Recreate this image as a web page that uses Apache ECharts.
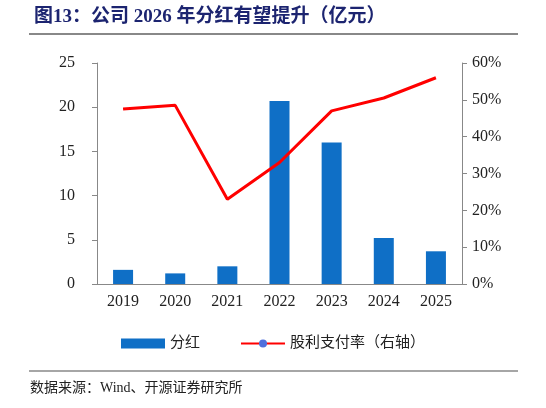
<!DOCTYPE html>
<html><head><meta charset="utf-8">
<script src="https://cdn.jsdelivr.net/npm/echarts@6/dist/echarts.min.js"></script>
<style>body{margin:0;background:#fff}#c{width:546px;height:408px}</style>
</head><body><div id="c"></div>
<script>
// 年份、分红（亿元）、股利支付率（%）
const years = ['2019', '2020', '2021', '2022', '2023', '2024', '2025'];
const dividend = [1.6, 1.2, 2.0, 20.7, 16.0, 5.2, 3.7];
const payoutRatio = [47.5, 48.5, 23, 33, 47, 50.5, 56];

const font = '"Times New Roman","Liberation Serif","Noto Sans CJK SC",serif';
const chart = echarts.init(document.getElementById('c'));
chart.setOption({
  animation: false,
  textStyle: { fontFamily: font },
  title: {
    text: '图13：公司 2026 年分红有望提升（亿元）',
    left: 29, top: 3,
    textStyle: { color: '#1c2470', fontSize: 19, fontWeight: 'bold', fontFamily: font }
  },
  graphic: [
    { type: 'line', shape: { x1: 29, y1: 34, x2: 518, y2: 34 }, style: { stroke: '#888', lineWidth: 2 } },
    { type: 'line', shape: { x1: 29, y1: 371, x2: 518, y2: 371 }, style: { stroke: '#888', lineWidth: 1.5 } },
    { type: 'text', left: 30, top: 381, style: { text: '数据来源：Wind、开源证券研究所', fill: '#222', fontSize: 14, fontFamily: font } }
  ],
  legend: {
    bottom: 52, itemGap: 40, itemWidth: 44, itemHeight: 10,
    textStyle: { fontSize: 15, color: '#222', fontFamily: font },
    data: [{ name: '分红', icon: 'rect' }, '股利支付率（右轴）']
  },
  grid: { left: 97, right: 84, top: 63, bottom: 124 },
  xAxis: {
    type: 'category', data: years,
    axisLine: { lineStyle: { color: '#888' } },
    axisTick: { lineStyle: { color: '#888' } },
    axisLabel: { color: '#222', fontSize: 16, margin: 10 }
  },
  yAxis: [
    { type: 'value', min: 0, max: 25, interval: 5,
      axisLine: { show: true, lineStyle: { color: '#888' } },
      axisTick: { show: true, lineStyle: { color: '#888' } },
      splitLine: { show: false },
      axisLabel: { color: '#222', fontSize: 16, margin: 22 } },
    { type: 'value', min: 0, max: 60, interval: 10,
      axisLine: { show: true, lineStyle: { color: '#888' } },
      axisTick: { show: true, lineStyle: { color: '#888' } },
      splitLine: { show: false },
      axisLabel: { color: '#222', fontSize: 16, margin: 10, formatter: '{value}%' } }
  ],
  series: [
    { name: '分红', type: 'bar', data: dividend, barWidth: 20, itemStyle: { color: '#0f6fc6' } },
    { name: '股利支付率（右轴）', type: 'line', yAxisIndex: 1, data: payoutRatio,
      symbol: 'none', lineStyle: { color: '#ff0000', width: 3 } }
  ]
});
</script></body></html>
